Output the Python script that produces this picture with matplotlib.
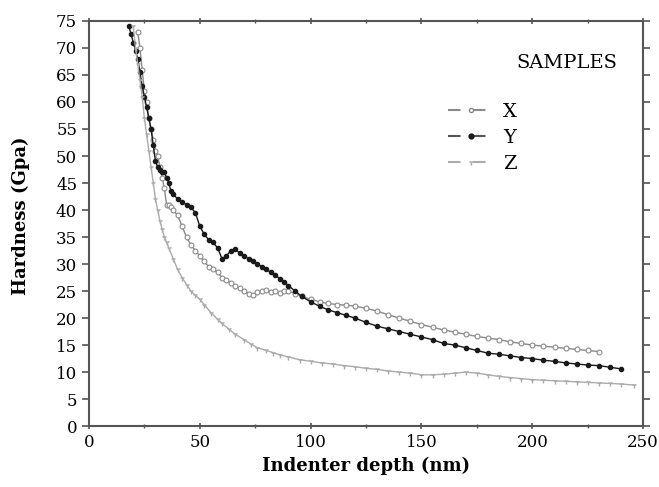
import matplotlib
matplotlib.use("Agg")
import matplotlib.pyplot as plt
from matplotlib.lines import Line2D

# Data
depth_x = [22, 23, 24, 25, 26, 27, 28, 29, 30, 31, 32, 33, 34, 35, 36, 37, 38, 40, 42, 44, 46, 48, 50,
           52, 54, 56, 58, 60, 62, 64, 66, 68, 70, 72, 74, 76, 78, 80, 82, 84, 86, 88, 90, 93, 96,
           100, 104, 108, 112, 116, 120, 125, 130, 135, 140, 145, 150, 155, 160, 165, 170, 175,
           180, 185, 190, 195, 200, 205, 210, 215, 220, 225, 230]
hard_x = [73, 70, 66, 62, 60, 57, 55, 53, 51, 50, 48, 46, 44, 41, 41, 40.5, 40, 39, 37, 35, 33.5, 32.5, 31.5,
          30.5, 29.5, 29, 28.5, 27.5, 27, 26.5, 26, 25.5, 25, 24.5, 24.3, 24.8, 25, 25.2, 24.8, 25, 24.6, 25, 25,
          24.5, 24,
          23.5, 23, 22.7, 22.5, 22.4, 22.2, 21.8, 21.3, 20.6, 20, 19.4, 18.8, 18.3, 17.8, 17.4, 17, 16.6,
          16.3, 16, 15.6, 15.3, 15, 14.8, 14.6, 14.4, 14.2, 14, 13.8]

depth_y = [18, 19, 20, 21, 22, 23, 24, 25, 26, 27, 28, 29, 30, 31, 32, 33, 34, 35, 36, 37, 38, 40, 42,
           44, 46, 48, 50, 52, 54, 56, 58, 60, 62, 64, 66, 68, 70, 72, 74, 76, 78, 80, 82, 84, 86, 88,
           90, 93, 96, 100, 104, 108, 112, 116, 120, 125, 130, 135, 140, 145, 150, 155, 160, 165,
           170, 175, 180, 185, 190, 195, 200, 205, 210, 215, 220, 225, 230, 235, 240]
hard_y = [74, 72.5, 71, 69.5, 68, 65.5, 63, 61, 59, 57, 55, 52, 49, 48, 47.5, 47, 47, 46, 45, 43.5, 43, 42, 41.5,
          41, 40.5, 39.5, 37, 35.5, 34.5, 34, 33, 31, 31.5, 32.5, 32.8, 32, 31.5, 31, 30.5, 30, 29.5, 29, 28.5,
          28, 27.3, 26.7,
          26, 25, 24, 23, 22.2, 21.5, 21, 20.5, 20, 19.2, 18.5, 18, 17.5, 17, 16.5, 16, 15.3, 15,
          14.5, 14, 13.5, 13.3, 13, 12.7, 12.5, 12.2, 12, 11.7, 11.5, 11.3, 11.2, 10.9, 10.6]

depth_z = [20, 21, 22, 23, 24, 25, 26, 27, 28, 29, 30, 31, 32, 33, 34, 35, 36, 38, 40, 42, 44, 46, 48,
           50, 52, 55, 58, 60, 63, 66, 70, 73, 76, 80, 83, 86, 90, 95, 100, 105, 110, 115, 120, 125,
           130, 135, 140, 145, 150, 155, 160, 165, 170, 175, 180, 185, 190, 195, 200, 205, 210, 215,
           220, 225, 230, 235, 240, 246]
hard_z = [74, 70, 67, 64, 61, 57, 54, 51, 48, 45, 42, 40, 38, 36.5, 35, 34, 33, 31, 29, 27.5, 26.2, 25, 24.2,
          23.5, 22.5, 21, 19.8, 19, 18, 17, 16, 15.2, 14.5, 14, 13.6, 13.2, 12.8, 12.3, 12, 11.7, 11.5, 11.2,
          11, 10.7, 10.5, 10.2, 10, 9.8, 9.5, 9.5, 9.6, 9.8, 10, 9.8, 9.5, 9.2, 9, 8.8, 8.6, 8.5, 8.4, 8.3,
          8.2, 8.1, 8, 7.9, 7.8, 7.6]

series_labels = ["X", "Y", "Z"]
x_ticks = [0, 50, 100, 150, 200, 250]
y_ticks = list(range(0, 80, 5))

plt.rcParams['font.family'] = ['DejaVu Serif']

fig = plt.figure(figsize=(6.59, 4.87), dpi=100)
ax = fig.add_axes([0.135, 0.125, 0.841, 0.832])

col_x = "#8a8a8a"
col_y = "#1a1a1a"
col_z = "#ababab"

ax.plot(depth_x, hard_x, color=col_x, lw=1.0, marker='o', ms=3.5, mfc='white', mec=col_x, mew=0.8)
ax.plot(depth_y, hard_y, color=col_y, lw=1.0, marker='o', ms=3, mfc=col_y, mec=col_y)
ax.plot(depth_z, hard_z, color=col_z, lw=1.0, marker='1', ms=4, mec=col_z)

ax.set_xlim(0, 250)
ax.set_ylim(0, 75)
ax.set_xticks(x_ticks)
ax.set_xticks([25, 75, 125, 175, 225], minor=True)
ax.set_yticks(y_ticks)
ax.tick_params(axis='both', labelsize=12, color='#555555', width=1.2, length=5, direction='out',
               top=True, right=True, labeltop=False, labelright=False)
ax.tick_params(axis='x', which='minor', length=3, width=1.0, color='#555555', direction='out', top=True)
ax.tick_params(axis='x', which='both', direction='inout')
for s in ax.spines.values():
    s.set_color('#555555')
    s.set_linewidth(1.5)

ax.set_xlabel("Indenter depth (nm)", fontsize=13, fontweight='bold', labelpad=4)
ax.set_ylabel("Hardness (Gpa)", fontsize=13, fontweight='bold')
ax.yaxis.set_label_coords(-0.106, 0.52)

ax.text(0.772, 0.897, "SAMPLES", transform=ax.transAxes, fontsize=14, ha='left', va='center')

handles = [
    Line2D([], [], color=col_x, ls=(0, (6, 6)), lw=1.5, marker='o', ms=3, mfc='white', mec=col_x),
    Line2D([], [], color='#555555', ls=(0, (6, 6)), lw=1.5, marker='o', ms=3.5, mfc=col_y, mec=col_y),
    Line2D([], [], color=col_z, ls=(0, (6, 6)), lw=1.5, marker='1', ms=4, mec=col_z),
]
ax.legend(handles, series_labels, loc='upper left', bbox_to_anchor=(0.647, 0.797), frameon=False,
          fontsize=14, handlelength=2.4, handletextpad=0.45, labelspacing=0.4, borderaxespad=0,
          borderpad=0)

fig.savefig("out.png", dpi=100)
